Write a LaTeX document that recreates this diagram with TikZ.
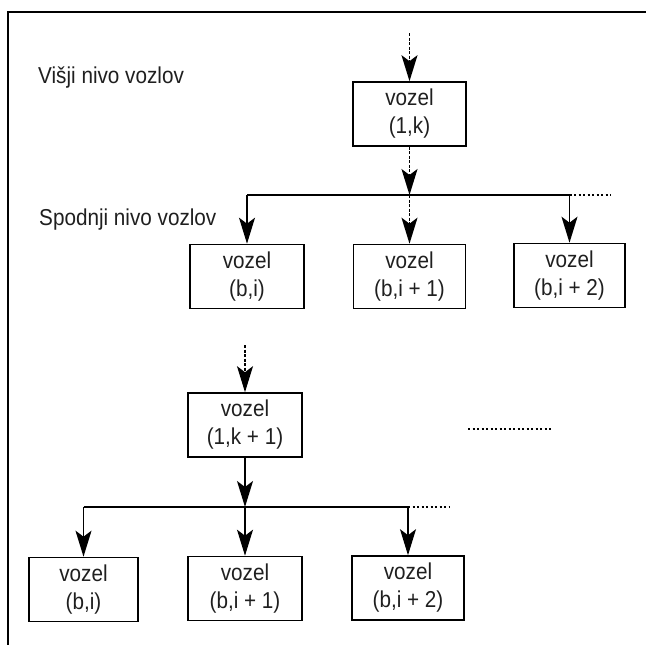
\documentclass[tikz,border=0pt]{standalone}
\usepackage{fontspec}
\setmainfont{Liberation Sans}[FakeStretch=0.9]
\usetikzlibrary{arrows.meta}
\begin{document}
\begin{tikzpicture}[x=1pt,y=-1pt,
  vbox/.style={draw,line width=1.6pt,minimum width=#1,minimum height=64pt,inner sep=0pt,align=center,
    font=\fontsize{23}{28}\selectfont,text=black!88},
  vbox/.default=113pt,
  head/.style={-{Stealth[length=26pt,width=16pt,inset=6pt]}},
  conn/.style={line width=1.4pt},
  dconn/.style={line width=1.4pt,dash pattern=on 3pt off 1.5pt},
  dots/.style={line width=1.3pt,dash pattern=on 2pt off 2.5pt},
  lbl/.style={anchor=base west,inner sep=0pt,font=\fontsize{23}{28}\selectfont,text=black!88}]
\useasboundingbox (0,0) rectangle (646,645);
% frame
\draw[line width=2pt] (8,645) -- (8,12) -- (646,12);
% labels
\node[lbl] (l1) at (38,83) {Višji nivo vozlov};
\node[lbl] (l2) at (39,225) {Spodnji nivo vozlov};
% upper group
\node[vbox] (k) at (409.5,114) {vozel\\(1,k)};
\node[vbox=114pt] (a1) at (247,276.5) {vozel\\(b,i)};
\node[vbox=112pt] (a2) at (409.5,276.5) {vozel\\(b,i + 1)};
\node[vbox=111pt] (a3) at (569.5,275.5) {vozel\\(b,i + 2)};
\coordinate (ktop) at (409.5,33);
\coordinate (h1) at (409.5,195);
\coordinate (h1end) at (611,195);
\draw[dconn,head] (ktop) -- (k.north);
\draw[dconn,head] (k.south) -- (h1);
\draw[conn] (a1.north |- h1) -- (a3.north |- h1);
\draw[dots] (a3.north |- h1) -- (h1end);
\draw[conn,head] (a1.north |- h1) -- (a1.north);
\draw[dconn,head] (a2.north |- h1) -- (a2.north);
\draw[conn,head] (a3.north |- h1) -- (a3.north);
% separate dotted line
\coordinate (s1) at (468,429);
\coordinate (s2) at (552,429);
\draw[dots] (s1) -- (s2);
% lower group
\node[vbox=114pt] (m) at (245,425) {vozel\\(1,k + 1)};
\node[vbox=109pt] (b1) at (83.5,589.5) {vozel\\(b,i)};
\node[vbox=114pt] (b2) at (245,588.5) {vozel\\(b,i + 1)};
\node[vbox=112pt] (b3) at (408,588) {vozel\\(b,i + 2)};
\coordinate (mtop) at (245,345);
\coordinate (h2) at (245,507);
\coordinate (h2end) at (449,507);
\draw[dconn,head] (mtop) -- (m.north);
\draw[conn,head] (m.south) -- (h2);
\draw[conn] (b1.north |- h2) -- (b3.north |- h2);
\draw[dots] (b3.north |- h2) -- (h2end);
\draw[conn,head] (b1.north |- h2) -- (b1.north);
\draw[conn,head] (b2.north |- h2) -- (b2.north);
\draw[conn,head] (b3.north |- h2) -- (b3.north);
\end{tikzpicture}
\end{document}
